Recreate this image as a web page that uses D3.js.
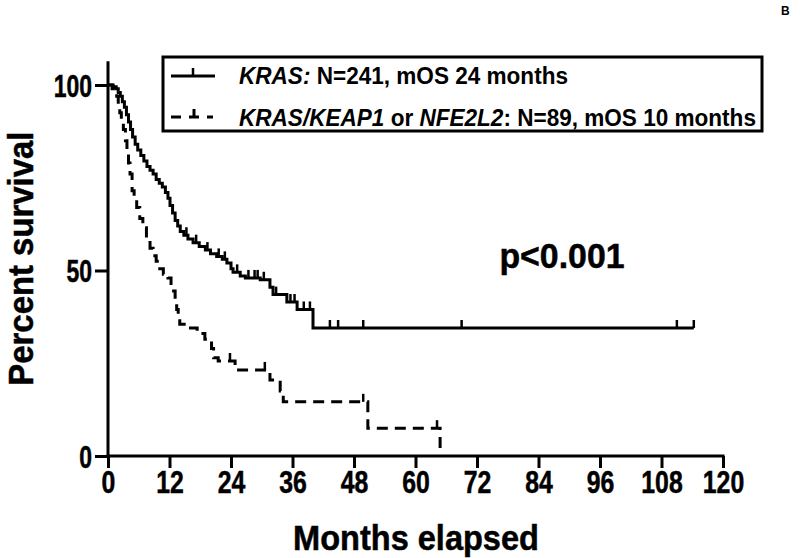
<!DOCTYPE html>
<html><head><meta charset="utf-8">
<script src="https://cdn.jsdelivr.net/npm/d3@7/dist/d3.min.js"></script>
<style>
html,body{margin:0;padding:0;background:#fff;}
text{font-family:"Liberation Sans",Arial,sans-serif;font-weight:bold;fill:#000;}
.sq{transform-box:fill-box;transform-origin:center;}
.hv{stroke:#000;stroke-width:0.5px;}
</style></head>
<body><svg id="c" width="800" height="558"></svg>
<script>
// ---- data ----
const xTicks = [0,12,24,36,48,60,72,84,96,108,120];
const yTicks = [0,50,100];
const krasTimes = [0,1.0,1.6,2.0,2.4,2.8,3.2,3.6,4.0,4.4,4.8,5.3,5.8,6.4,7.0,7.6,8.2,8.8,9.4,10.0,10.6,11.2,11.7,12.1,12.6,13.1,13.6,14.1,14.8,15.6,16.6,17.8,19.0,20.0,21.2,22.3,23.2,24.0,24.4,25.8,26.8,29.7,31.6,32.2,34.9,36.9,40.0];
const krasSurv  = [100,99.5,99,98,97,95.5,94,92,90,88,86,84,82.5,81,79.5,78,77,76,74.5,73.5,72.5,71,69.5,67.5,65.5,63.5,62,60.5,59.5,58.5,57.5,56.5,55.5,54.5,53.8,53,52,50.5,49.5,48.5,48,47.5,45.5,43.5,41.5,39.5,34.5];
const krasEnd = 114.3;
const krasCensor = [15.3,17.2,19.4,21.6,22.8,25.2,27.4,28.6,29.2,30.4,32.8,35.6,36.4,38.2,39.4,43.3,44.9,49.8,69.0,111.0,114.3];
const keapTimes = [0,0.8,1.3,1.7,2.0,2.3,2.6,3.0,3.4,3.7,4.0,4.3,4.7,5.1,5.6,6.2,6.8,7.5,8.2,8.8,9.4,10.1,10.8,11.7,12.3,12.8,13.1,13.4,13.7,14.0,15.6,17.4,18.9,20.2,20.6,21.5,24.8,31.6,33.6,34.2,50.7,64.8];
const keapSurv  = [100,99,98,97,94.5,92.5,90,88,85,82.5,79,76,71.5,69,67,64,61.5,58.5,56,54,52.5,50.5,49,48,46.5,44.5,42,39.5,37,35.5,34.5,33,31.5,29,26.5,25.6,23.2,20.5,17.5,14.6,7.5,0];
const keapEnd = 64.8;
const keapCensor = [23.8,30.6,49.8,64.2];

const svg = d3.select("#c");
const x = d3.scaleLinear().domain([0,120]).range([108,723]);
const y = d3.scaleLinear().domain([0,100]).range([456,85]);

function stepPts(times, surv, end){
  const pts=[[times[0],surv[0]]];
  for(let i=1;i<times.length;i++){
    pts.push([times[i],surv[i-1]]);
    pts.push([times[i],surv[i]]);
  }
  pts.push([end,surv[surv.length-1]]);
  return pts;
}
function survAt(times,surv,t){
  let s=surv[0];
  for(let i=0;i<times.length;i++){ if(times[i]<=t) s=surv[i]; }
  return s;
}
const line = d3.line().x(d=>x(d[0])).y(d=>y(d[1]));

// axes
const gx = svg.append("g").attr("transform","translate(0,456)")
  .call(d3.axisBottom(x).tickValues(xTicks).tickSize(12).tickSizeOuter(0).tickPadding(3));
gx.select(".domain").remove();
gx.selectAll(".tick line").attr("stroke","#000").attr("stroke-width",3);
gx.selectAll(".tick text").attr("class","sq hv").style("font-size","31px").attr("dy","0.72em")
  .style("transform","scaleX(0.8)");

const gy = svg.append("g").attr("transform","translate(108,0)")
  .call(d3.axisLeft(y).tickValues(yTicks).tickSize(13).tickSizeOuter(0).tickPadding(3));
gy.select(".domain").remove();
gy.selectAll(".tick line").attr("stroke","#000").attr("stroke-width",3);
gy.selectAll(".tick text").attr("class","hv").style("font-size","31px").attr("dy","0.36em")
  .style("transform-box","fill-box").style("transform-origin","right center").style("transform","scaleX(0.74)");

svg.append("line").attr("x1",x(0)).attr("x2",x(120)).attr("y1",y(0)).attr("y2",y(0))
  .attr("stroke","#000").attr("stroke-width",3).attr("stroke-linecap","square");
svg.append("line").attr("x1",x(0)).attr("x2",x(0)).attr("y1",y(0)).attr("y2",y(106))
  .attr("stroke","#000").attr("stroke-width",3).attr("stroke-linecap","square");

// curves
svg.append("path").attr("d",line(stepPts(krasTimes,krasSurv,krasEnd)))
  .attr("fill","none").attr("stroke","#000").attr("stroke-width",3);
svg.append("path").attr("d",line(stepPts(keapTimes,keapSurv,keapEnd)))
  .attr("fill","none").attr("stroke","#000").attr("stroke-width",3).attr("stroke-dasharray","11,7");

// censor ticks
svg.selectAll(".ck").data(krasCensor).enter().append("line")
  .attr("x1",d=>x(d)).attr("x2",d=>x(d))
  .attr("y1",d=>y(survAt(krasTimes,krasSurv,d))).attr("y2",d=>y(survAt(krasTimes,krasSurv,d))-8)
  .attr("stroke","#000").attr("stroke-width",2.5);
svg.selectAll(".cd").data(keapCensor).enter().append("line")
  .attr("x1",d=>x(d)).attr("x2",d=>x(d))
  .attr("y1",d=>y(survAt(keapTimes,keapSurv,d))).attr("y2",d=>y(survAt(keapTimes,keapSurv,d))-8)
  .attr("stroke","#000").attr("stroke-width",2.5);

// axis titles
svg.append("text").attr("class","sq hv").attr("x",416).attr("y",550).attr("text-anchor","middle")
  .style("font-size","35px").style("transform","scaleX(0.93)").text("Months elapsed");
svg.append("text").attr("class","sq hv").attr("x",21).attr("y",271).attr("text-anchor","middle")
  .style("font-size","35px").style("transform","rotate(-90deg) scaleX(0.94)").text("Percent survival");

// p-value
svg.append("text").attr("class","sq hv").attr("x",562).attr("y",268).attr("text-anchor","middle")
  .style("font-size","36px").style("transform","scaleX(0.94)").text("p<0.001");

// panel letter
svg.append("text").attr("x",781).attr("y",15).style("font-size","12px").text("B");

// legend
const lg = svg.append("g");
lg.append("rect").attr("x",163).attr("y",57).attr("width",599).attr("height",74)
  .attr("fill","#fff").attr("stroke","#000").attr("stroke-width",3);
lg.append("line").attr("x1",171).attr("x2",215).attr("y1",76).attr("y2",76).attr("stroke","#000").attr("stroke-width",3);
lg.append("line").attr("x1",193).attr("x2",193).attr("y1",76).attr("y2",68).attr("stroke","#000").attr("stroke-width",2.5);
lg.append("path").attr("d","M171,117H181M189,117H199M194,117V109M207,117H213")
  .attr("fill","none").attr("stroke","#000").attr("stroke-width",3);
const t1 = lg.append("text").attr("x",239).attr("y",84).style("font-size","24px")
  .style("transform-box","fill-box").style("transform-origin","left center").style("transform","scaleX(0.94)");
t1.append("tspan").style("font-style","italic").text("KRAS:");
t1.append("tspan").text(" N=241, mOS 24 months");
const t2 = lg.append("text").attr("x",239).attr("y",126).style("font-size","24px")
  .style("transform-box","fill-box").style("transform-origin","left center").style("transform","scaleX(0.94)");
t2.append("tspan").style("font-style","italic").text("KRAS/KEAP1");
t2.append("tspan").text(" or ");
t2.append("tspan").style("font-style","italic").text("NFE2L2");
t2.append("tspan").text(": N=89, mOS 10 months");
</script></body></html>
